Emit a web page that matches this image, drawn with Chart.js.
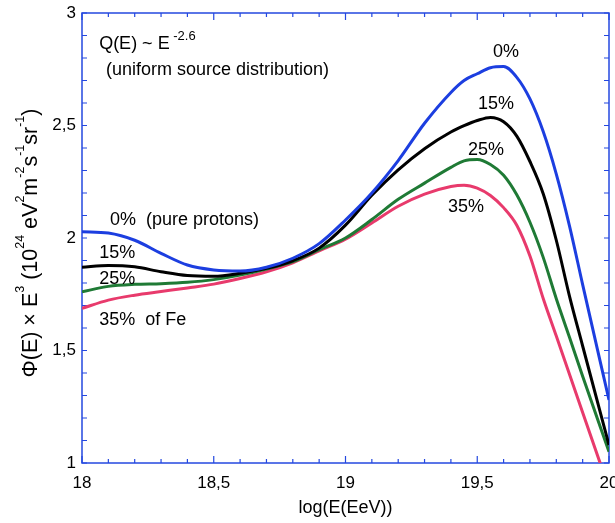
<!DOCTYPE html>
<html>
<head>
<meta charset="utf-8">
<script src="https://cdn.jsdelivr.net/npm/chart.js@4/dist/chart.umd.min.js"></script>
<style>
  html, body { margin: 0; padding: 0; background: #fff; }
</style>
</head>
<body>
<canvas id="chart" width="615" height="523"></canvas>
<script>
// ============================
// Data
// ============================
const logE = [18.0, 18.1, 18.2, 18.3, 18.4, 18.5, 18.6, 18.7, 18.8, 18.9, 19.0, 19.1, 19.2, 19.3, 19.4,
              19.45, 19.5, 19.55, 19.6, 19.65, 19.7, 19.75, 19.8, 19.85, 19.9, 20.0];

const fe0  = [2.028, 2.022, 1.990, 1.932, 1.880, 1.858, 1.853, 1.870, 1.910, 1.975, 2.080, 2.200, 2.344, 2.510, 2.647,
              2.700, 2.730, 2.757, 2.762, 2.714, 2.618, 2.474, 2.284, 2.054, 1.793, 1.280];
const fe15 = [1.870, 1.878, 1.872, 1.850, 1.833, 1.830, 1.843, 1.865, 1.899, 1.955, 2.057, 2.190, 2.303, 2.397, 2.471,
              2.499, 2.522, 2.536, 2.517, 2.453, 2.340, 2.198, 1.990, 1.742, 1.520, 1.080];
const fe25 = [1.761, 1.785, 1.794, 1.797, 1.803, 1.815, 1.835, 1.862, 1.895, 1.948, 2.000, 2.082, 2.172, 2.244, 2.314,
              2.343, 2.349, 2.327, 2.279, 2.192, 2.070, 1.915, 1.730, 1.559, 1.386, 1.050];
const fe35 = [1.687, 1.724, 1.746, 1.762, 1.778, 1.795, 1.820, 1.850, 1.890, 1.943, 1.995, 2.067, 2.141, 2.195, 2.229,
              2.235, 2.222, 2.189, 2.135, 2.057, 1.920, 1.732, 1.564, 1.394, 1.224, 0.886];

const xTickLabels = ["18", "18,5", "19", "19,5", "20"];
const yTickLabels = ["1", "1,5", "2", "2,5", "3"];

// curve labels, placed in data coordinates (left edge, vertical middle)
const labels = [
  { text: "0%  (pure protons)", x: 18.106, y: 2.080 },
  { text: "15%",        x: 18.065, y: 1.933 },
  { text: "25%",        x: 18.065, y: 1.818 },
  { text: "35%  of Fe", x: 18.065, y: 1.636 },
  { text: "0%",         x: 19.560, y: 2.827 },
  { text: "15%",        x: 19.503, y: 2.596 },
  { text: "25%",        x: 19.465, y: 2.391 },
  { text: "35%",        x: 19.389, y: 2.138 },
  { text: "(uniform source distribution)", x: 18.091, y: 2.747 }
];

const frameColor = "#2448e0";
const FONT = "'Liberation Sans', Arial, Helvetica, sans-serif";

function series(values) {
  return logE.map((v, i) => ({ x: v, y: values[i] }));
}

function line(label, values, color) {
  return {
    label: label,
    data: series(values),
    borderColor: color,
    borderWidth: 3,
    pointRadius: 0,
    fill: false,
    cubicInterpolationMode: 'monotone'
  };
}

// draw a run of [text, isSuperscript] pieces starting at x (baseline y)
function drawRich(ctx, pieces, x, y, size, supSize, raise) {
  let cx = x;
  pieces.forEach(([t, sup]) => {
    ctx.font = (sup ? supSize : size) + "px " + FONT;
    ctx.fillText(t, cx, sup ? y - raise : y);
    cx += ctx.measureText(t).width;
  });
  return cx - x;
}

function richWidth(ctx, pieces, size, supSize) {
  let w = 0;
  pieces.forEach(([t, sup]) => {
    ctx.font = (sup ? supSize : size) + "px " + FONT;
    w += ctx.measureText(t).width;
  });
  return w;
}

// ============================
// Frame, inward ticks, texts
// ============================
const decorations = {
  id: 'decorations',
  beforeDatasetsDraw(chart) {
    const { ctx, chartArea: a, scales: { x, y } } = chart;
    ctx.save();
    ctx.strokeStyle = frameColor;
    ctx.lineWidth = 1.5;
    ctx.strokeRect(a.left, a.top, a.right - a.left, a.bottom - a.top);

    ctx.lineWidth = 1.2;
    ctx.beginPath();
    for (let i = 0; i <= 20; i++) {
      const px = x.getPixelForValue(18 + i * 0.1);
      const len = (i % 5 === 0) ? 7 : 4;
      ctx.moveTo(px, a.top); ctx.lineTo(px, a.top + len);
      ctx.moveTo(px, a.bottom); ctx.lineTo(px, a.bottom - len);
    }
    for (let i = 0; i <= 20; i++) {
      const py = y.getPixelForValue(1 + i * 0.1);
      ctx.moveTo(a.left, py); ctx.lineTo(a.left + 5, py);
      ctx.moveTo(a.right, py); ctx.lineTo(a.right - 5, py);
    }
    ctx.stroke();
    ctx.restore();
  },
  afterDatasetsDraw(chart) {
    const { ctx, scales: { x, y } } = chart;
    ctx.save();
    ctx.fillStyle = "#000";
    ctx.textBaseline = "middle";
    ctx.textAlign = "left";
    labels.forEach(l => {
      ctx.font = "18px " + FONT;
      ctx.fillText(l.text, x.getPixelForValue(l.x), y.getPixelForValue(l.y));
    });

    // Q(E) ~ E^-2.6
    ctx.textBaseline = "alphabetic";
    drawRich(ctx, [["Q(E) ~ E", false], [" -2.6", true]],
             x.getPixelForValue(18.065), y.getPixelForValue(2.867) + 6, 18, 13, 9);

    // rotated y-axis title
    const yTitle = [["\u03A6(E) \u00D7 E", false], ["3", true], [" (10", false], ["24", true],
                    [" eV", false], ["2", true], ["m", false], ["-2", true], ["s", false],
                    ["-1", true], ["sr", false], ["-1", true], [")", false]];
    const w = richWidth(ctx, yTitle, 21.5, 12.5);
    ctx.translate(37, (chart.chartArea.top + chart.chartArea.bottom) / 2 + 5);
    ctx.rotate(-Math.PI / 2);
    drawRich(ctx, yTitle, -w / 2, 0, 21.5, 12.5, 13);
    ctx.restore();
  }
};

// ============================
// Chart
// ============================
const ctx = document.getElementById('chart').getContext('2d');
const chart = new Chart(ctx, {
  type: 'line',
  data: {
    datasets: [
      line('0%', fe0, '#1c3ee0'),
      line('15%', fe15, '#000000'),
      line('25%', fe25, '#1f7a35'),
      line('35%', fe35, '#e83a6c')
    ]
  },
  options: {
    responsive: false,
    animation: false,
    layout: { padding: { top: 13, right: 6, left: 0, bottom: 0 } },
    plugins: { legend: { display: false }, tooltip: { enabled: false } },
    scales: {
      x: {
        type: 'linear',
        min: 18, max: 20,
        grid: { display: false, drawTicks: false },
        border: { display: false },
        ticks: {
          stepSize: 0.5,
          padding: 10,
          color: '#000',
          font: { family: FONT, size: 17 },
          maxRotation: 0,
          callback: (v) => xTickLabels[Math.round((v - 18) * 2)]
        },
        title: {
          display: true,
          text: 'log(E(EeV))',
          color: '#000',
          font: { family: FONT, size: 18 },
          padding: { top: 0, bottom: 4 }
        },
        afterFit(scale) {
          scale.height = 60;
          scale.paddingLeft = 0;
          scale.paddingRight = 0;
        }
      },
      y: {
        type: 'linear',
        min: 1, max: 3,
        grid: { display: false, drawTicks: false },
        border: { display: false },
        ticks: {
          stepSize: 0.5,
          padding: 6,
          color: '#000',
          font: { family: FONT, size: 17 },
          callback: (v) => yTickLabels[Math.round((v - 1) * 2)]
        },
        afterFit(scale) {
          scale.width = 82;
          scale.paddingTop = 0;
          scale.paddingBottom = 0;
        }
      }
    }
  },
  plugins: [decorations]
});
</script>
</body>
</html>
